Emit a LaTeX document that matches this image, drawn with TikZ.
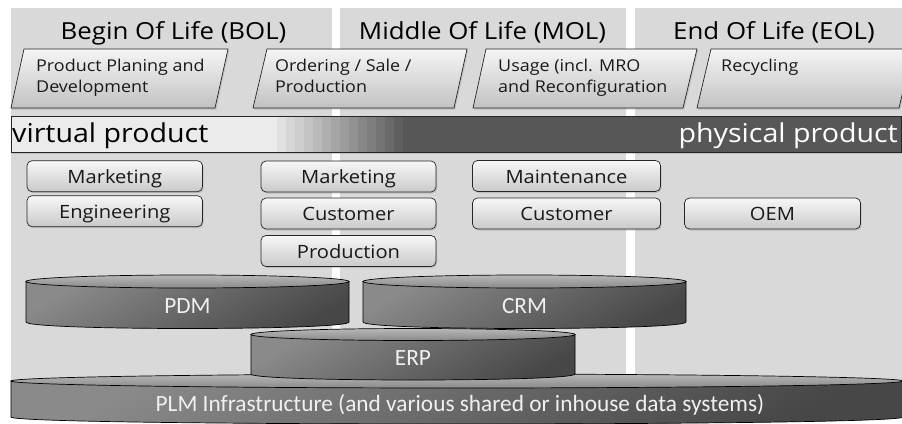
\documentclass[tikz,border=0pt]{standalone}
\usepackage{fontspec}
\setmainfont{Open Sans}[FakeStretch=1.1]
\newfontfamily\cylfont{Carlito}
\usetikzlibrary{shadows}
\definecolor{bggray}{HTML}{D9D9D9}
\definecolor{edge}{HTML}{262626}
\definecolor{darkbar}{HTML}{575757}
\definecolor{lightbar}{HTML}{EBEBEB}
\newcommand{\drawcyl}[5]{%
  \pgfmathsetmacro\cylmid{(#1+#2)/2}%
  \pgfmathsetmacro\cylrx{(#2-#1)/2}%
  \pgfmathsetmacro\cylk{#4+1.333*#5}%
  \shade[cylbody] (#1,#3) -- (#1,#4) .. controls (#1,\cylk) and (#2,\cylk) .. (#2,#4) -- (#2,#3) -- cycle;
  \shade[cyltop] (\cylmid,#3) ellipse [x radius=\cylrx, y radius=#5];
}
\begin{document}
\begin{tikzpicture}[x=1pt,y=-1pt,
  colbg/.style={fill=bggray},
  hdr/.style={anchor=base, inner sep=0pt, font=\fontsize{23.5}{28}\selectfont, text=black},
  phase/.style={draw=edge, line width=0.7pt, top color=black!4, bottom color=black!24,
    drop shadow={shadow xshift=1.2pt, shadow yshift=-1.5pt, opacity=0.3}},
  phasetext/.style={anchor=north west, align=left, inner sep=0pt, text=black!90,
    font=\fontsize{16.3}{21}\selectfont},
  rbox/.style={draw=edge, line width=0.7pt, rounded corners=5pt, top color=black!3, bottom color=black!21,
    drop shadow={shadow xshift=1.2pt, shadow yshift=-1.5pt, opacity=0.3},
    inner sep=0pt, text height=14pt, text depth=0pt, text=black!90, font=\fontsize{18.3}{22}\selectfont},
  bartext/.style={anchor=base, inner sep=0pt, font=\fontsize{26}{30}\selectfont},
  cylbody/.style={draw=black, line width=0.7pt, top color=black!46, bottom color=black!72, shading angle=30},
  cyltop/.style={draw=black, line width=0.7pt, top color=black!28, bottom color=black!46},
  cyltext/.style={anchor=base, inner sep=0pt, text=white!94!black, font=\cylfont\fontsize{23.3}{27}\selectfont}
]
\useasboundingbox (0,0) rectangle (902,423);
\clip (0,0) rectangle (902,423);
\fill[white] (0,0) rectangle (902,423);

% life-phase columns
\path[colbg] (11,8) rectangle (332,390);
\path[colbg] (340,8) rectangle (626,390);
\path[colbg] (635,8) rectangle (905,390);

% headers
\node[hdr] (bol) at (173.5,39.5) {Begin Of Life (BOL)};
\node[hdr] (mol) at (482.5,39.5) {Middle Of Life (MOL)};
\node[hdr] (eol) at (774,39.5) {End Of Life (EOL)};

% phase parallelograms
\path[phase] (24,49) -- (228,49) -- (215,108) -- (11,108) -- cycle;
\path[phase] (267,49) -- (467,49) -- (454,108) -- (253,108) -- cycle;
\path[phase] (486,49) -- (697,49) -- (683,108) -- (473,108) -- cycle;
\path[phase] (711,49) -- (913,49) -- (899,108) -- (697,108) -- cycle;
\node[phasetext] (ph1) at (36,59) {Product Planing and\\Development};
\node[phasetext] (ph2) at (275,59) {Ordering / Sale /\\Production};
\node[phasetext] (ph3) at (498,59) {Usage (incl. MRO\\and Reconfiguration};
\node[phasetext] (ph4) at (721,59) {Recycling};

% virtual / physical product bar
\path[fill=lightbar, drop shadow={shadow xshift=1.2pt, shadow yshift=-1.5pt, opacity=0.3}] (11,116.5) rectangle (901,152);
\foreach \i in {0,...,13} {
  \pgfmathsetmacro\p{12+\i*3.9}
  \fill[black!\p] (277+\i*9,116.5) rectangle (286.3+\i*9,152);
}
\fill[darkbar] (403,116.5) rectangle (901,152);
\draw[edge, line width=0.7pt] (11,116.5) rectangle (901,152);
\node[bartext, anchor=base west, text=black] (virt) at (12,142) {virtual product};
\node[bartext, anchor=base east, text=white] (phys) at (898,142) {physical product};

% organisational boxes
\node[rbox, minimum width=175.5pt, minimum height=31pt] (mk1) at (114.75,176.2) {Marketing};
\node[rbox, minimum width=175.5pt, minimum height=31pt] (en1) at (114.75,211.2) {Engineering};
\node[rbox, minimum width=175pt, minimum height=31pt] (mk2) at (348.5,176.5) {Marketing};
\node[rbox, minimum width=175pt, minimum height=31pt] (cu2) at (348.5,213.5) {Customer};
\node[rbox, minimum width=175pt, minimum height=31pt] (pr2) at (348.5,251) {Production};
\node[rbox, minimum width=188pt, minimum height=31pt] (ma3) at (566.5,176) {Maintenance};
\node[rbox, minimum width=188pt, minimum height=31pt] (cu3) at (566.5,213.5) {Customer};
\node[rbox, minimum width=176pt, minimum height=31pt] (oem) at (772.5,213.5) {OEM};

% data systems
\drawcyl{11}{903}{381}{417}{7}
\node[cyltext] (plm) at (460,411.7) {PLM Infrastructure (and various shared or inhouse data systems)};
\drawcyl{251}{575}{334.5}{374}{6}
\node[cyltext] (erp) at (413,365) {ERP};
\drawcyl{26}{349}{281.5}{322}{6.5}
\node[cyltext] (pdm) at (187.5,313) {PDM};
\drawcyl{363}{686}{281.5}{322}{6.5}
\node[cyltext] (crm) at (524.5,313) {CRM};
\end{tikzpicture}
\end{document}
